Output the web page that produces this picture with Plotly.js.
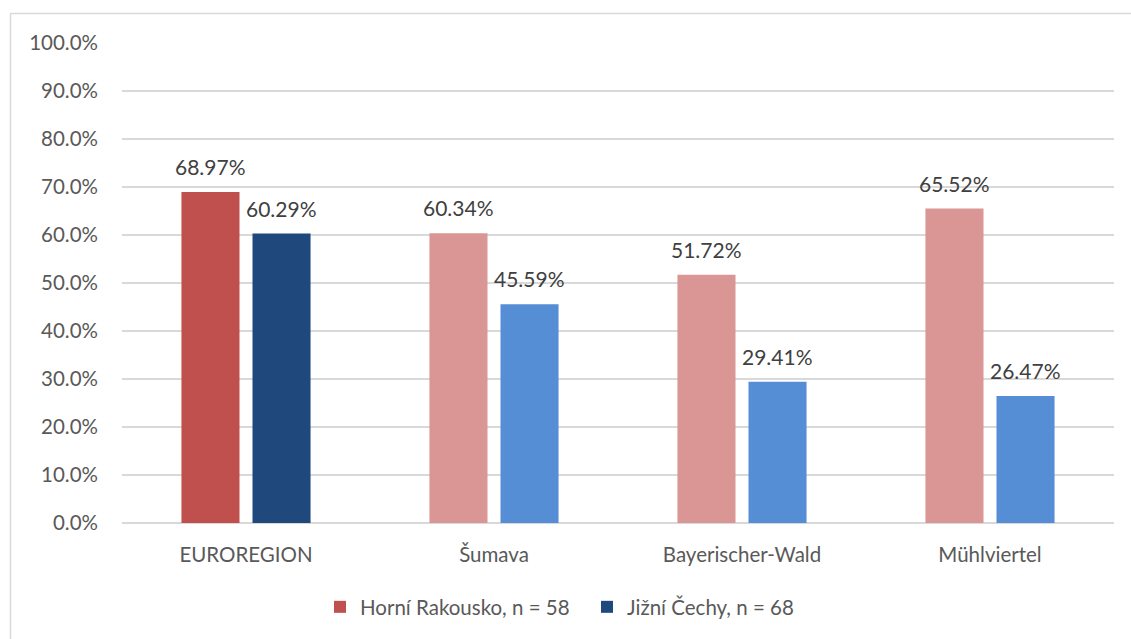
<!DOCTYPE html>
<html>
<head>
<meta charset="utf-8">
<script src="https://cdn.plot.ly/plotly-3.0.1.min.js"></script>
<style>
  html, body { margin: 0; padding: 0; background: #ffffff; }
  #chart { width: 1131px; height: 639px; }
</style>
</head>
<body>
<div id="chart"></div>
<script>
// Regions compared
const categories = ['EUROREGION', 'Šumava', 'Bayerischer-Wald', 'Mühlviertel'];

// Share of respondents per region (fractions)
const horniRakousko = [0.6897, 0.6034, 0.5172, 0.6552];
const jizniCechy = [0.6029, 0.4559, 0.2941, 0.2647];

const seriesNames = ['Horní Rakousko, n = 58', 'Jižní Čechy, n = 68'];

// The aggregate (first) group is drawn in the deeper shade
const redShades = ['#C0504D', '#D99694', '#D99694', '#D99694'];
const blueShades = ['#1F497D', '#558ED5', '#558ED5', '#558ED5'];

const FONT = 'Lato, "Liberation Sans", sans-serif';
const TEXT = '#595959';
const LABEL = '#404040';

// plot area geometry (pixels)
const W = 1131, H = 639, ML = 122, MR = 17, MT = 43, MB = 116;
const pw = W - ML - MR, ph = H - MT - MB;
const px = v => (v - ML) / pw;
const py = v => (H - MB - v) / ph;

const BARGAP = 0.427, GROUPGAP = 0.183;
// horizontal offset of each bar's centre from its category centre, in px
const slot = (pw / categories.length) * (1 - BARGAP) / 2;

const traces = [
  { name: seriesNames[0], y: horniRakousko, marker: { color: redShades } },
  { name: seriesNames[1], y: jizniCechy, marker: { color: blueShades } }
].map(t => Object.assign({ type: 'bar', x: categories, hoverinfo: 'skip' }, t));

// value labels above each bar
const annotations = [];
[horniRakousko, jizniCechy].forEach((vals, s) => {
  vals.forEach((v, i) => {
    annotations.push({
      x: categories[i], y: v, xref: 'x', yref: 'y',
      text: (v * 100).toFixed(2) + '%',
      showarrow: false,
      xanchor: 'center', yanchor: 'bottom',
      xshift: (s === 0 ? -1 : 1) * slot / 2,
      yshift: 11,
      font: { family: FONT, size: 21, color: LABEL }
    });
  });
});

const layout = {
  width: W,
  height: H,
  margin: { l: ML, r: MR, t: MT, b: MB },
  paper_bgcolor: '#ffffff',
  plot_bgcolor: '#ffffff',
  font: { family: FONT, color: TEXT, size: 20.5 },
  barmode: 'group',
  bargap: BARGAP,
  bargroupgap: GROUPGAP,
  showlegend: true,
  legend: {
    orientation: 'h',
    x: px(320),
    xanchor: 'left',
    y: py(607),
    yanchor: 'middle',
    font: { family: FONT, size: 20.5, color: TEXT },
    itemwidth: 30,
    entrywidth: 222
  },
  xaxis: {
    type: 'category',
    showgrid: false,
    showline: false,
    ticks: '',
    tickfont: { family: FONT, size: 20.5, color: TEXT },
    ticklabelstandoff: 17
  },
  yaxis: {
    range: [0, 1],
    dtick: 0.1,
    tick0: 0,
    tickformat: '.1%',
    showgrid: true,
    gridcolor: '#D9D9D9',
    gridwidth: 1.5,
    zeroline: true,
    zerolinecolor: '#D9D9D9',
    zerolinewidth: 1.5,
    showline: false,
    ticks: '',
    ticklabelstandoff: 23,
    tickfont: { family: FONT, size: 20.5, color: TEXT }
  },
  annotations: annotations,
  shapes: [{
    type: 'rect',
    xref: 'paper', yref: 'paper',
    x0: px(10.5), x1: px(1140),
    y0: py(650), y1: py(13.5),
    line: { color: '#D9D9D9', width: 1.5 },
    fillcolor: 'rgba(0,0,0,0)',
    layer: 'below'
  }]
};

Plotly.newPlot('chart', traces, layout, { displayModeBar: false, staticPlot: true });
</script>
</body>
</html>
